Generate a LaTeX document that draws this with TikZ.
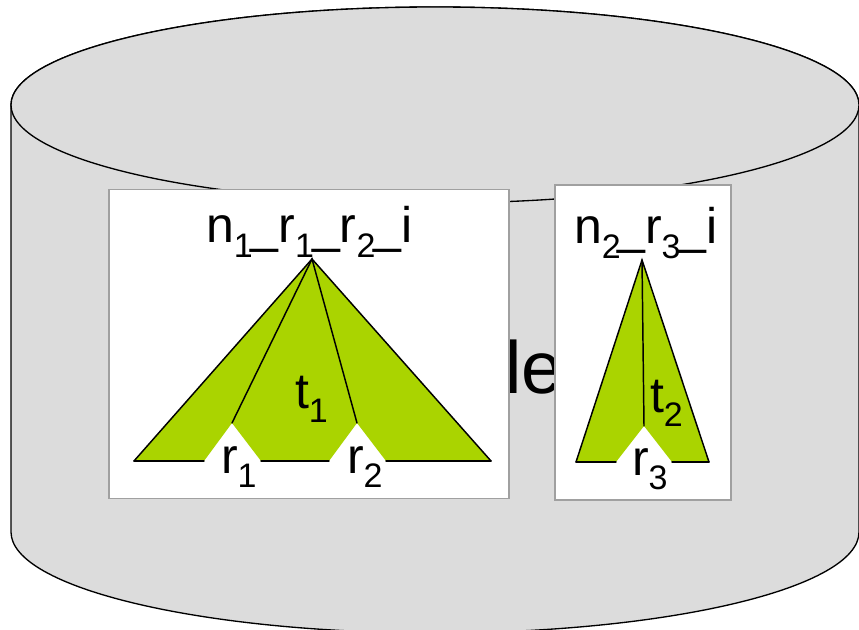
\documentclass[tikz,border=0pt]{standalone}
\usepackage{fontspec}
\setmainfont{Liberation Sans}
\definecolor{cylgray}{HTML}{DCDCDC}
\definecolor{leaf}{HTML}{AAD400}
\definecolor{boxline}{HTML}{A0A0A0}
\newcommand{\bigtxt}{\fontsize{37.5pt}{37.5pt}\selectfont}
\newcommand{\lowsub}[1]{\raisebox{-11pt}{\fontsize{25.5pt}{25.5pt}\selectfont #1}}
\newcommand{\tightbar}[1]{\kern#1\_\kern0pt}
\tikzset{
  cyl/.style={fill=cylgray,draw=black,line width=1pt},
  panel/.style={fill=white,draw=boxline,line width=1.1pt,rectangle,inner sep=0pt,outer sep=0pt},
  tree/.style={fill=leaf,draw=none},
  treeline/.style={draw=black,line width=1.1pt,line cap=round},
  lbl/.style={anchor=base west,inner sep=0pt,outer sep=0pt,font=\bigtxt,text=black}
}
\begin{document}
\begin{tikzpicture}[x=0.75pt,y=-0.75pt]
\useasboundingbox (0,0) rectangle (859,630);
\begin{scope}
\clip (0,0) rectangle (859,630);
\draw[cyl] (11,105) -- (11,532) arc[x radius=424,y radius=101,start angle=180,end angle=0] -- (859,105) arc[x radius=424,y radius=98,start angle=0,end angle=-180] -- cycle;
\draw[cyl] (435,105) ellipse[x radius=424,y radius=98];
\end{scope}
\node[lbl,font=\fontsize{55.5pt}{55.5pt}\selectfont] (word) at (505,393) {le};
% left panel
\node[panel,minimum width=300pt,minimum height=232pt] (box1) at (309,344) {};
\coordinate (a1) at (312,259);
\coordinate (l1) at (134,461);
\coordinate (n1a) at (204,461);
\coordinate (n1t) at (232,423);
\coordinate (n1b) at (261,461);
\coordinate (n2a) at (329,461);
\coordinate (n2t) at (357,423);
\coordinate (n2b) at (386,461);
\coordinate (r1) at (491,461);
\fill[tree] (a1) -- (l1) -- (n1a) -- (n1t) -- (n1b) -- (n2a) -- (n2t) -- (n2b) -- (r1) -- cycle;
\draw[treeline] (n1t) -- (a1) -- (n2t);
\draw[treeline] (l1) -- (a1) -- (r1);
\draw[treeline] (l1) -- (n1a);
\draw[treeline] (n1b) -- (n2a);
\draw[treeline] (n2b) -- (r1);
\node[lbl] (root1) at (206,243) {n\lowsub{1}\tightbar{-1.5pt}r\lowsub{1}\tightbar{-1.5pt}r\lowsub{2}\tightbar{-1.5pt}i};
\node[lbl] (t1) at (295,408) {t\lowsub{1}};
\node[lbl] (r1lab) at (221,473) {r\lowsub{1}};
\node[lbl] (r2lab) at (347,473) {r\lowsub{2}};
% right panel
\node[panel,minimum width=132pt,minimum height=236.25pt] (box2) at (643,342.5) {};
\coordinate (a2) at (642,260);
\coordinate (l2) at (576,462);
\coordinate (n3a) at (616,462);
\coordinate (n3t) at (644,426);
\coordinate (n3b) at (672,462);
\coordinate (r2) at (709,462);
\fill[tree] (a2) -- (l2) -- (n3a) -- (n3t) -- (n3b) -- (r2) -- cycle;
\draw[treeline] (a2) -- (n3t);
\draw[treeline] (l2) -- (a2) -- (r2);
\draw[treeline] (l2) -- (n3a);
\draw[treeline] (n3b) -- (r2);
\node[lbl] (root2) at (574,244) {n\lowsub{2}\tightbar{-2.6pt}r\lowsub{3}\tightbar{-1.8pt}i};
\node[lbl] (t2) at (650,412) {t\lowsub{2}};
\node[lbl] (r3lab) at (632,475) {r\lowsub{3}};
\end{tikzpicture}
\end{document}
